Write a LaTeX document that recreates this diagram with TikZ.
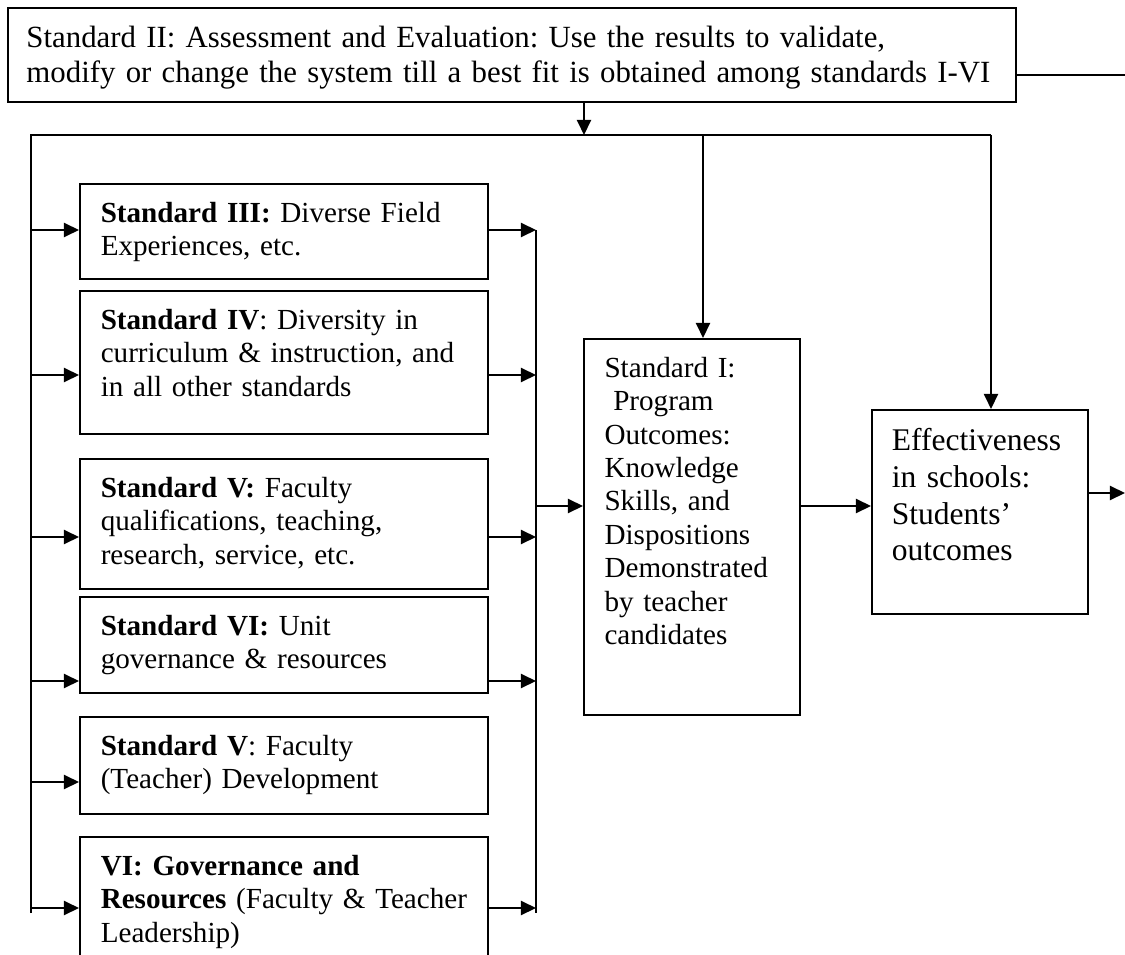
\documentclass[tikz,border=0pt]{standalone}
\usepackage{fontspec}
\setmainfont{Liberation Serif}
\usetikzlibrary{arrows.meta}
\frenchspacing

\begin{document}
\begin{tikzpicture}[x=0.412pt,y=-0.412pt,
  box/.style={draw,line width=0.75pt,anchor=north west,align=left,inner ysep=0pt,inner xsep=8.6pt,text height=15.7pt,font=\fontsize{12}{13.8}\selectfont},
  sidebox/.style={box,text width=150.8pt},
  link/.style={line width=0.75pt},
  arr/.style={link,-{Triangle[length=6.2pt,width=5.8pt]}}]
\useasboundingbox (0,0) rectangle (1125,955);

% feedback box on top
\node[box,text width=400pt,inner xsep=7.65pt,text height=16.5pt,text depth=22.2pt,font=\fontsize{12.7}{14.4}\selectfont] (s2) at (7,7) {Standard II: Assessment and Evaluation: Use the results to validate,\\modify or change the system till a best fit is obtained among standards I-VI};

% column of standards
\node[sidebox,text depth=23.5pt] (s3) at (79,183) {\textbf{Standard III:} Diverse Field\\Experiences, etc.};
\node[sidebox,text depth=43.3pt] (s4) at (79,290) {\textbf{Standard IV}: Diversity in\\curriculum \& instruction, and\\in all other standards};
\node[sidebox,text depth=37.9pt] (s5) at (79,458) {\textbf{Standard V:} Faculty\\qualifications, teaching,\\research, service, etc.};
\node[sidebox,text depth=23.9pt] (s6) at (79,596) {\textbf{Standard VI:} Unit\\governance \& resources};
\node[sidebox,text depth=24.3pt] (s5b) at (79,716) {\textbf{Standard V}: Faculty\\(Teacher) Development};
\node[sidebox,text depth=33.4pt] (s6b) at (79,836) {\textbf{VI: Governance and}\\\mbox{\textbf{Resources} (Faculty \& Teacher}\\Leadership)};

% outcomes
\node[box,text width=72pt,inner xsep=8.5pt,text depth=139.3pt] (s1) at (583,338) {Standard I:\\\hspace*{.3em}Program\\Outcomes:\\Knowledge\\Skills, and\\Dispositions\\Demonstrated\\by teacher\\candidates};
\node[box,text width=72.6pt,inner xsep=8.2pt,text height=16.9pt,text depth=67.2pt,font=\fontsize{13}{15.1}\selectfont] (eff) at (871,409) {Effectiveness\\in schools:\\Students'\\outcomes};

% bus lines
\coordinate (busNW) at (31,135);
\coordinate (busNE) at (991,135);
\coordinate (busSW) at (31,913);
\coordinate (drop) at (584,135);
\coordinate (s1in) at (703,135);
\coordinate (colN) at (536,230);
\coordinate (colS) at (536,913);
\coordinate (fbout) at (1125,75);
\coordinate (effout) at (1125,493);

\draw[link] (s2.east |- fbout) -- (fbout);
\draw[arr] (s2.south -| drop) -- (drop);
\draw[link] (busSW) -- (busNW) -- (busNE);
\draw[arr] (busNE) -- (busNE |- eff.north);
\draw[arr] (s1in) -- (s1in |- s1.north);
\draw[link] (colN) -- (colS);

\foreach \b/\yy in {s3/230,s4/375,s5/537,s6/681,s5b/782,s6b/908}
  \draw[arr] (busSW |- 0,\yy) -- (\b.west |- 0,\yy);
\foreach \b/\yy in {s3/230,s4/375,s5/537,s6/681,s6b/908}
  \draw[arr] (\b.east |- 0,\yy) -- (colN |- 0,\yy);

\draw[arr] (colN |- 0,506) -- (s1.west |- 0,506);
\draw[arr] (s1.east |- 0,506) -- (eff.west |- 0,506);
\draw[arr] (eff.east |- effout) -- (effout);
\end{tikzpicture}
\end{document}
